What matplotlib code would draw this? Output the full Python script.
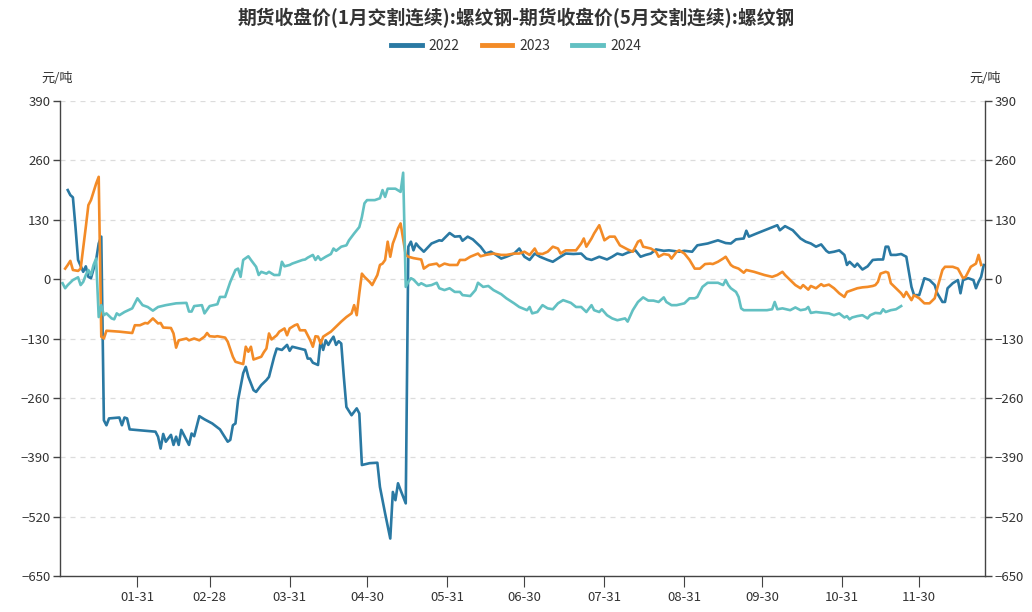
import matplotlib
matplotlib.use("Agg")
import matplotlib.pyplot as plt
import pandas as pd

plt.rcParams["font.family"] = ["Noto Sans CJK SC", "DejaVu Sans"]

# ---------------------------------------------------------------------------
# Data: day of year (0 = Jan 1) and spread value (元/吨) for each year
# ---------------------------------------------------------------------------
days_2022 = [3, 4, 5, 6, 7, 9, 10, 11, 12, 14, 15, 16, 17, 18, 19, 23, 24, 25, 26, 27,
             37, 38, 39, 40, 41, 43, 44, 45, 46, 47, 49, 50, 51, 52, 54, 56, 59, 62, 65, 66,
             67, 68, 69, 71, 72, 73, 75, 76, 78, 80, 81, 83, 84, 86, 88, 89, 90, 95, 96, 97,
             98, 100, 101, 102, 103, 104, 105, 106, 107, 108, 109, 110, 111, 113, 115, 116,
             117, 120, 123, 124, 126, 128, 129, 130, 131, 132, 134, 135, 136, 137, 138, 139,
             141, 144, 147, 148, 151, 153, 155, 156, 158, 160, 163, 165, 167, 169, 171, 173,
             176, 178, 180, 182, 184, 186, 189, 191, 194, 196, 199, 202, 204, 206, 209, 212,
             214, 216, 218, 220, 223, 225, 227, 229, 231, 234, 236, 240, 242, 245, 247, 251,
             255, 258, 260, 262, 265, 266, 267, 270, 274, 278, 279, 281, 284, 287, 289, 291,
             293, 295, 297, 298, 300, 302, 304, 305, 306, 308, 309, 311, 313, 315, 317, 319,
             320, 321, 322, 324, 326, 328, 329, 330, 331, 333, 334, 335, 337, 339, 340, 342,
             343, 344, 346, 348, 349, 350, 352, 354, 355, 356, 357, 358]
vals_2022 = [195, 184, 179, 114, 42, 16, 28, 5, 2, 42, 78, 93, -309, -320, -305, -303, -320, -303, -305, -329,
             -334, -345, -371, -339, -356, -341, -363, -345, -363, -330, -352, -363, -338, -344, -300, -307, -316, -329, -356, -352,
             -320, -316, -265, -206, -192, -214, -243, -247, -232, -221, -214, -170, -152, -155, -144, -157, -148, -155, -174, -174,
             -183, -188, -134, -155, -134, -144, -134, -126, -144, -136, -141, -214, -280, -298, -283, -294,
             -407, -403, -402, -455, -513, -568, -466, -484, -447, -462, -491, 71, 82, 63, 78, 71,
             60, 78, 85, 84, 101, 93, 94, 84, 93, 87, 71, 56, 60, 53, 45, 49,
             56, 67, 49, 42, 56, 49, 42, 38, 49, 56, 55, 56, 45, 42, 49, 43,
             49, 56, 53, 58, 63, 49, 53, 56, 65, 62, 63, 60, 62, 60, 74, 78,
             85, 79, 78, 87, 89, 106, 93, 100, 109, 118, 107, 116, 107, 89, 82, 78,
             71, 76, 62, 58, 60, 63, 53, 31, 38, 27, 34, 21, 28, 42, 43, 43,
             71, 71, 53, 53, 55, 49, 16, -17, -35, -35, -17, 2, -2, -13, -31, -50,
             -50, -20, -9, -2, -31, -2, 2, -2, -20, -6, 5, 31]

days_2023 = [2, 3, 4, 5, 7, 8, 10, 11, 12, 13, 14, 15, 16, 17, 18, 23, 28, 29, 31, 33,
             34, 36, 38, 39, 40, 43, 44, 45, 46, 49, 50, 52, 54, 56, 57, 58, 60, 61, 64, 65,
             67, 68, 71, 72, 73, 74, 75, 76, 78, 79, 80, 81, 82, 84, 85, 87, 88, 89, 91, 92,
             93, 95, 97, 98, 99, 100, 101, 102, 105, 107, 109, 111, 113, 114, 115, 116, 117, 118,
             120, 121, 123, 124, 125, 126, 127, 128, 129, 130, 131, 132, 134, 135, 137, 140, 141,
             143, 146, 147, 149, 151, 154, 155, 157, 159, 162, 163, 165, 168, 171, 173, 176, 178,
             180, 182, 184, 185, 187, 189, 191, 193, 194, 196, 198, 200, 202, 203, 204, 206, 207,
             209, 211, 213, 215, 217, 220, 222, 224, 225, 226, 229, 231, 232, 234, 236, 237, 239,
             240, 242, 244, 246, 248, 250, 252, 253, 255, 257, 258, 260, 261, 263, 265, 266, 269,
             273, 276, 278, 280, 281, 283, 285, 287, 288, 290, 291, 293, 295, 296, 298, 300, 302,
             304, 305, 307, 309, 311, 313, 315, 316, 317, 318, 320, 321, 322, 324, 326, 327, 328,
             330, 331, 333, 335, 337, 339, 340, 342, 343, 346, 348, 350, 351, 353, 355, 356, 357]
vals_2023 = [23, 31, 40, 20, 18, 23, 114, 162, 173, 191, 209, 224, -126, -130, -113, -115, -118, -101, -101, -96,
             -97, -86, -97, -96, -106, -107, -119, -150, -134, -130, -134, -130, -134, -126, -118, -125, -126, -125, -128, -137,
             -170, -181, -186, -148, -159, -148, -176, -174, -170, -160, -152, -119, -132, -123, -115, -108, -123, -108, -101, -99,
             -112, -112, -134, -148, -125, -126, -141, -126, -115, -104, -93, -83, -75, -57, -79, -31, 12, 5,
             -6, -13, 9, 31, 34, 42, 82, 49, 78, 93, 111, 122, 53, 49, 46, 43, 23,
             31, 34, 28, 34, 31, 31, 42, 42, 49, 56, 50, 53, 56, 53, 53, 56, 56,
             60, 53, 67, 56, 55, 60, 71, 67, 56, 63, 63, 63, 78, 89, 71, 89, 100,
             118, 85, 93, 93, 74, 65, 60, 82, 85, 71, 67, 60, 49, 55, 53, 45, 60,
             63, 56, 42, 23, 23, 33, 34, 33, 38, 45, 49, 31, 27, 23, 14, 20, 16,
             9, 5, 9, 16, 9, -2, -13, -20, -13, -23, -15, -20, -11, -15, -12, -20, -31,
             -39, -28, -24, -20, -18, -17, -15, -13, -6, 12, 16, 14, -9, -20, -31, -39, -28,
             -46, -35, -42, -53, -53, -42, -20, 20, 27, 27, 23, 2, 5, 27, 34, 53, 31]

days_2024 = [1, 2, 3, 5, 7, 8, 9, 10, 11, 12, 13, 14, 15, 16, 17, 18, 20, 21, 22, 23,
             25, 28, 30, 32, 34, 36, 38, 41, 45, 49, 50, 51, 52, 55, 56, 58, 61, 62, 64, 66,
             68, 69, 70, 71, 73, 74, 76, 77, 78, 80, 81, 83, 85, 86, 87, 89, 90, 92, 94, 95,
             96, 98, 99, 100, 101, 103, 105, 106, 107, 109, 111, 112, 114, 116, 117, 118, 119,
             122, 124, 125, 126, 127, 130, 132, 133, 134, 135, 136, 137, 139, 140, 142, 144,
             146, 147, 149, 151, 153, 155, 156, 159, 161, 162, 164, 166, 168, 171, 173, 176,
             178, 181, 182, 183, 185, 187, 189, 191, 193, 195, 198, 200, 202, 204, 206, 207,
             209, 210, 212, 214, 216, 219, 220, 222, 224, 226, 228, 230, 232, 234, 235, 237,
             239, 242, 244, 246, 247, 249, 251, 255, 257, 258, 259, 260, 262, 263, 264, 265,
             269, 274, 276, 277, 278, 280, 283, 285, 287, 289, 290, 291, 293, 296, 298, 300,
             302, 304, 305, 306, 307, 309, 311, 313, 314, 316, 318, 319, 320, 322, 324, 326]
vals_2024 = [-9, -20, -13, -2, 4, -13, -6, 9, 20, 9, 31, 45, -83, -57, -79, -75, -86, -88, -75, -79,
             -72, -64, -42, -57, -61, -69, -61, -57, -53, -52, -71, -71, -59, -57, -75, -59, -55, -39, -39, -6,
             20, 23, 5, 42, 50, 42, 27, 9, 16, 12, 16, 9, 9, 38, 28, 31, 34, 38, 42, 43,
             47, 53, 42, 50, 42, 49, 55, 67, 62, 71, 74, 85, 100, 114, 136, 166, 173,
             173, 177, 195, 180, 198, 198, 191, 233, -17, -6, 2, -1, -13, -9, -15, -13,
             -8, -20, -24, -20, -28, -28, -35, -37, -24, -8, -17, -15, -24, -33, -42, -53,
             -61, -68, -61, -75, -72, -57, -64, -66, -53, -46, -52, -61, -61, -72, -57, -68,
             -72, -66, -79, -86, -90, -86, -93, -68, -50, -40, -47, -47, -50, -40, -50, -57,
             -57, -53, -42, -42, -39, -17, -8, -8, -13, -2, -13, -20, -28, -39, -64, -68,
             -68, -68, -66, -50, -66, -64, -68, -62, -68, -66, -61, -74, -72, -74, -75, -79,
             -75, -84, -81, -88, -84, -81, -79, -86, -79, -74, -75, -66, -72, -68, -66, -59]

series = [
    ("2022", days_2022, vals_2022, "#2a79a3"),
    ("2023", days_2023, vals_2023, "#f38b27"),
    ("2024", days_2024, vals_2024, "#62c0c2"),
]

y_ticks = [-650, -520, -390, -260, -130, 0, 130, 260, 390]
month_end_labels = ["01-31", "02-28", "03-31", "04-30", "05-31", "06-30",
                    "07-31", "08-31", "09-30", "10-31", "11-30"]

# tick positions: day of year for each month end label (non-leap year)
tick_days = [pd.Timestamp("2001-" + s).dayofyear - 1 for s in month_end_labels]

# ---------------------------------------------------------------------------
# Plot
# ---------------------------------------------------------------------------
fig = plt.figure(figsize=(10.32, 6.12), dpi=100)
ax = fig.add_axes([60 / 1032, 1 - 576 / 612, 925 / 1032, 475 / 612])

for name, d, v, c in series:
    ax.plot(d, v, color=c, linewidth=1.9, label=name, solid_joinstyle="round")

ax.set_ylim(-650, 390)
ax.set_xlim(0, 358.5)
ax.set_yticks(y_ticks)
ax.set_xticks(tick_days)
ax.set_xticklabels(month_end_labels)

ax.grid(axis="y", linestyle=(0, (4, 4)), color="#dcdcdc", linewidth=0.9)
ax.set_axisbelow(True)

for side in ["left", "right", "bottom"]:
    ax.spines[side].set_color("#444444")
    ax.spines[side].set_linewidth(1.0)
ax.spines["top"].set_visible(False)

ax.tick_params(axis="y", which="both", direction="out", length=5, width=1,
               color="#444444", labelsize=9.5, labelcolor="#333333",
               left=True, right=True, labelleft=True, labelright=True, pad=2)
ax.tick_params(axis="x", direction="out", length=8, width=0.8,
               color="#444444", labelsize=9.5, labelcolor="#333333", pad=3)

fig.text(57 / 1032, 1 - 79 / 612, "元/吨", ha="center", va="center",
         fontsize=9.5, color="#333333")
fig.text(985 / 1032, 1 - 79 / 612, "元/吨", ha="center", va="center",
         fontsize=9.5, color="#333333")

fig.suptitle("期货收盘价(1月交割连续):螺纹钢-期货收盘价(5月交割连续):螺纹钢",
             x=0.5, y=1 - 18 / 612, va="center", fontsize=13.5,
             fontweight="bold", color="#333333")

fig.legend(loc="center", bbox_to_anchor=(0.5, 1 - 46 / 612), ncol=3,
           frameon=False, fontsize=10, handlelength=2.2, handletextpad=0.5,
           columnspacing=1.6, labelcolor="#333333")
for line in fig.legends[0].get_lines():
    line.set_linewidth(3.5)

fig.savefig("out.png", dpi=100)
